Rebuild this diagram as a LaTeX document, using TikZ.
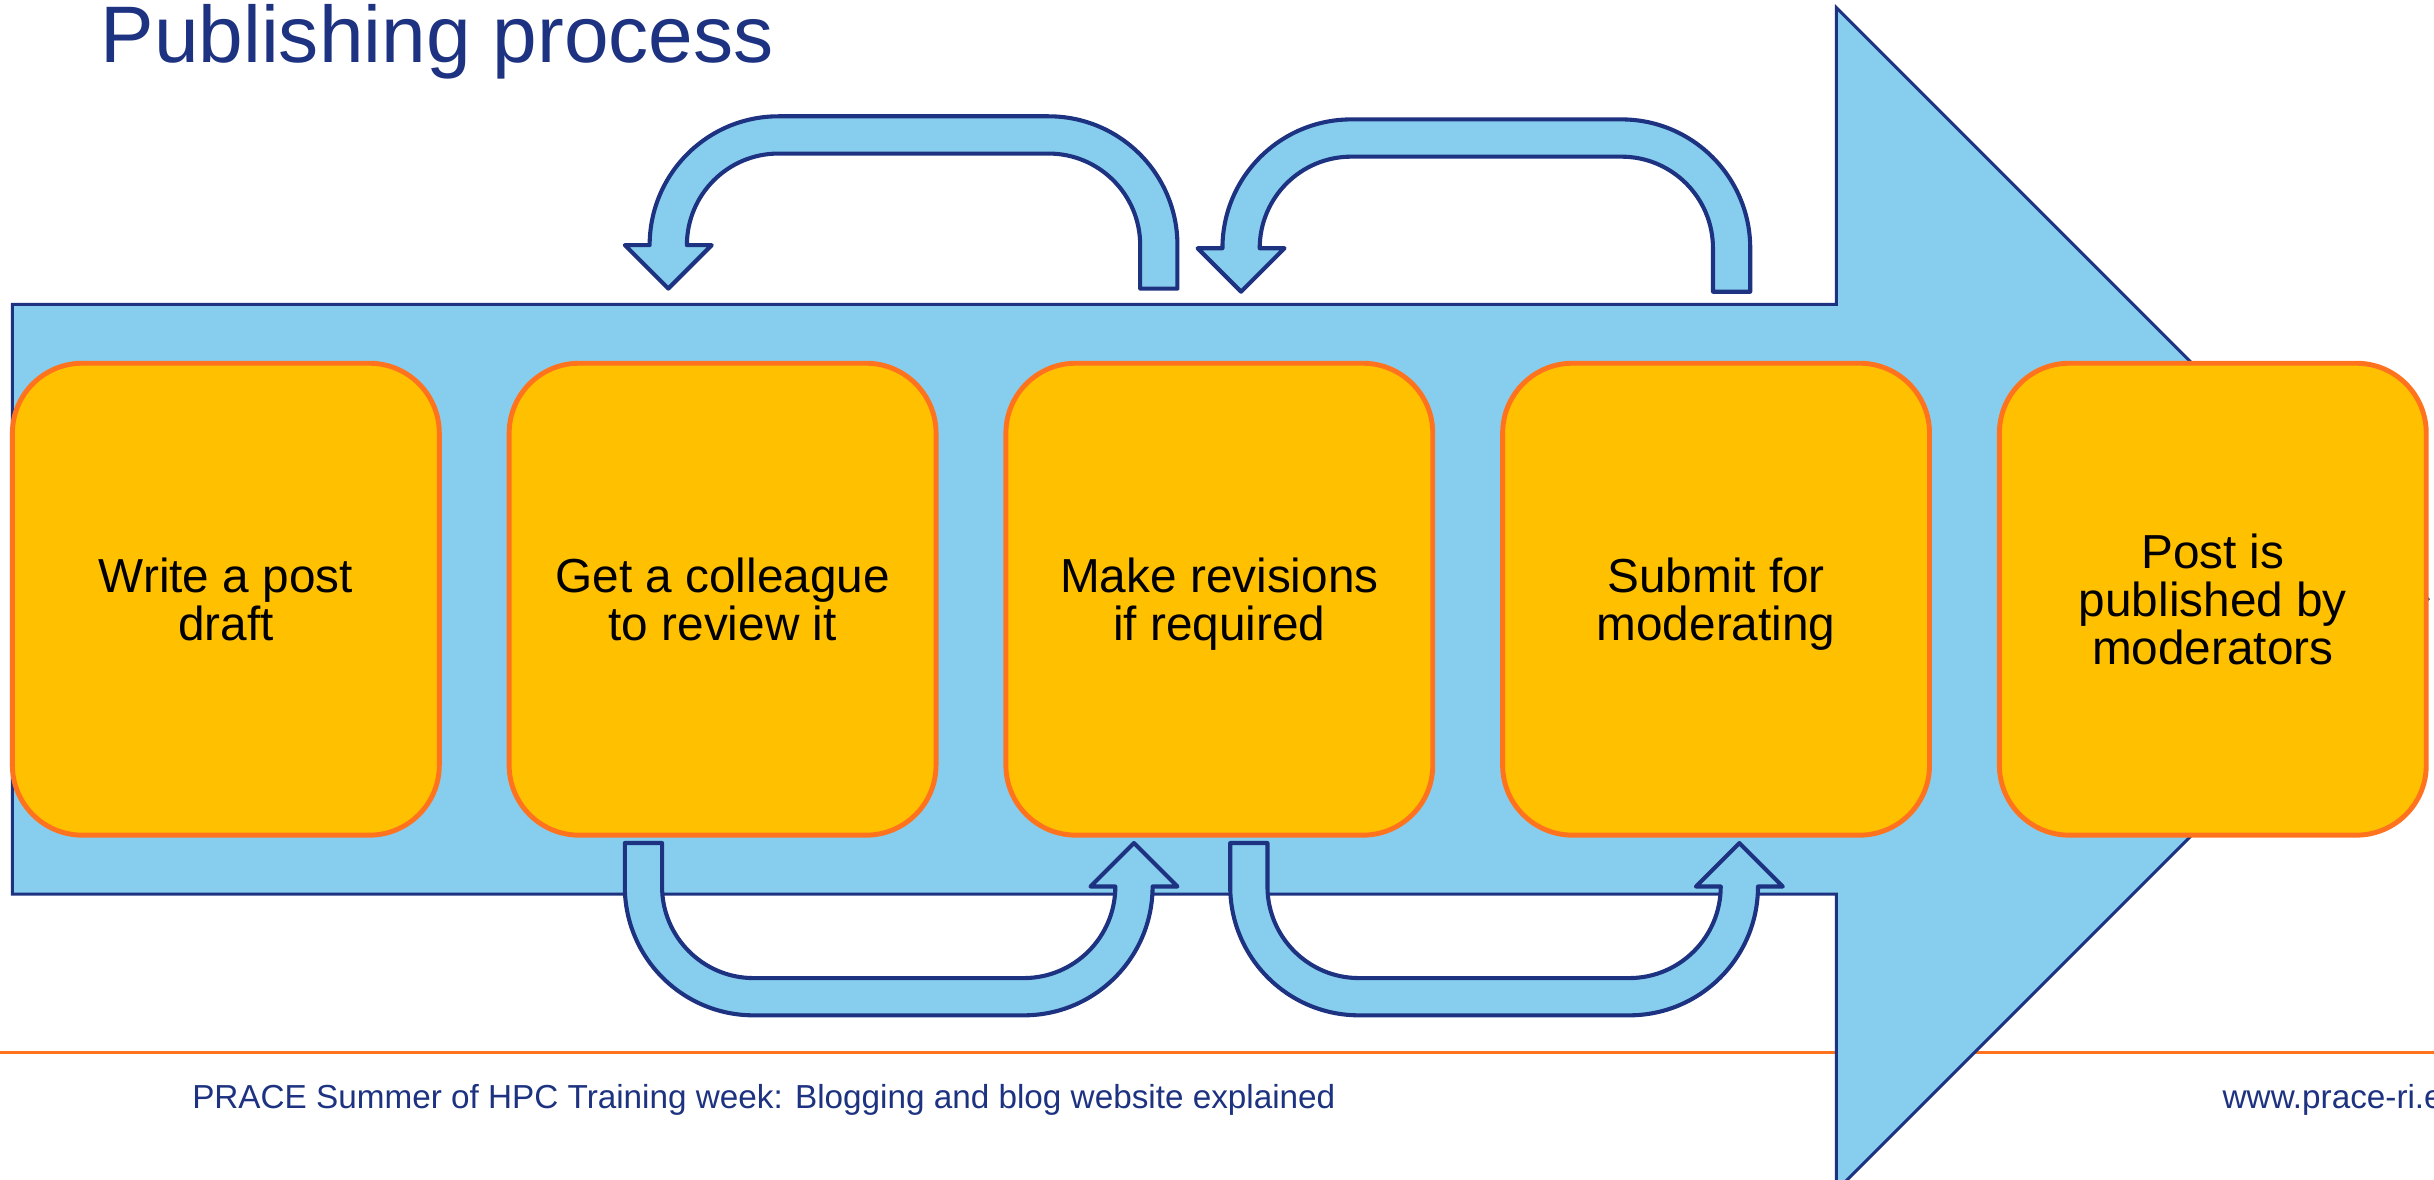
\documentclass[tikz,border=0pt]{standalone}
\usepackage{fontspec}
\setmainfont{Liberation Sans}
\usetikzlibrary{positioning}
\definecolor{navy}{RGB}{29,50,128}
\definecolor{skyfill}{RGB}{135,206,238}
\definecolor{gold}{RGB}{255,192,0}
\definecolor{rim}{RGB}{255,115,30}

\begin{document}
\begin{tikzpicture}

% definitions
\tikzstyle{box} = [rectangle, rounded corners=0.9cm, minimum width=5.5cm, minimum height=6.08cm, align=center, text depth=0pt, draw=rim, line width=1.8pt, fill=gold, font=\fontsize{17.5}{17.7}\selectfont]

\tikzstyle{band} = [draw=navy, line width=1.1pt, fill=skyfill]
\tikzstyle{turnarrow} = [draw=navy, line width=1.5pt, fill=skyfill, line join=round]
\tikzstyle{label} = [anchor=base west, inner sep=0, text=navy]

\tikzset{turn/.pic={
  \path [turnarrow] (0.24,0) -- (0.24,0.56) arc [start angle=0, end angle=90, radius=1.66]
    -- (-4.9,2.22) arc [start angle=90, end angle=180, radius=1.66]
    -- (-6.88,0.56) -- (-6.32,0) -- (-5.76,0.56) -- (-6.08,0.56)
    arc [start angle=180, end angle=90, radius=1.18]
    -- (-1.42,1.74) arc [start angle=90, end angle=0, radius=1.18]
    -- (-0.24,0) -- cycle;
}}

\useasboundingbox (0,0) rectangle (31.36,15.2);

% the background
\draw [rim, line width=1.4pt] (0,1.64) -- (31.36,1.64);
\draw [band] (0.16,11.28) -- (23.66,11.28) -- (23.66,15.1) -- (31.28,7.48) -- (23.66,-0.14) -- (23.66,3.68) -- (0.16,3.68) -- cycle;

% the steps
\node (b1) [box] at (2.91,7.48) {Write a post\\draft};
\node (b2) [box, right of=b1, xshift=5.4cm] {Get a colleague\\to review it};
\node (b3) [box, right of=b2, xshift=5.4cm] {Make revisions\\if required};
\node (b4) [box, right of=b3, xshift=5.4cm] {Submit for\\moderating};
\node (b5) [box, right of=b4, xshift=5.4cm] {Post is\\published by\\moderators};

% the loops
\coordinate [above=0.93cm of b3.north, xshift=-0.78cm] (t1);
\coordinate [above=0.89cm of b4.north, xshift=0.2cm] (t2);
\coordinate [below=0.07cm of b2.south, xshift=-1.02cm] (t3);
\coordinate [below=0.07cm of b3.south, xshift=0.38cm] (t4);

\pic at (t1) {turn};
\pic at (t2) {turn};
\pic [rotate=180] at (t3) {turn};
\pic [rotate=180] at (t4) {turn};

% the texts
\node (title) [label, font=\fontsize{29.4}{35}\selectfont] at (1.29,14.39) {Publishing process};
\node (foot) [label, font=\fontsize{12.2}{14}\selectfont] at (2.47,0.92) {PRACE Summer of HPC Training week: Blogging and blog website explained};
\node (web) [label, font=\fontsize{12.2}{14}\selectfont] at (28.63,0.92) {www.prace-ri.eu};

\end{tikzpicture}
\end{document}
